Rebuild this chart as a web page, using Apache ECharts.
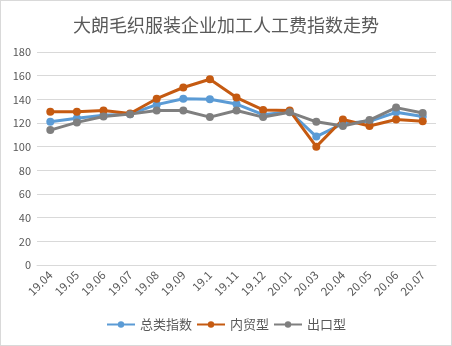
<!DOCTYPE html>
<html><head><meta charset="utf-8">
<script src="https://cdn.jsdelivr.net/npm/echarts@6/dist/echarts.min.js"></script>
<style>html,body{margin:0;padding:0;background:#fff;}#c{width:452px;height:346px;box-sizing:border-box;border:1px solid #d9d9d9;}</style>
</head><body><div id="c"></div>
<script>
const categories = ['19.04','19.05','19.06','19.07','19.08','19.09','19.1','19.11','19.12','20.01','20.03','20.04','20.05','20.06','20.07'];
const totalIndex = [121, 124, 126.5, 127.5, 135.5, 140.5, 140, 136, 127, 129.5, 108.5, 119.5, 121.5, 129, 125.5];
const domestic = [129.5, 129.5, 130.5, 128, 140.5, 150, 157, 141.5, 131, 130.5, 100, 123, 117.5, 123, 121.5];
const exportType = [114, 120.5, 125.5, 127.5, 130.5, 130.5, 125, 130.5, 125, 129, 121, 117.5, 122.5, 133, 128.5];
const yTicks = {min: 0, max: 180, interval: 20};
const titleText = '大朗毛织服装企业加工人工费指数走势';
const seriesNames = ['总类指数', '内贸型', '出口型'];
const colors = ['#5B9BD5', '#C55A11', '#7F7F7F'];

const chart = echarts.init(document.getElementById('c'));
const mk = (name, data, color) => ({
  name, type: 'line', data, color,
  symbol: 'circle', symbolSize: 8,
  lineStyle: {width: 3, color}, itemStyle: {color},
  z: 2
});
chart.setOption({
  animation: false,
  textStyle: {fontFamily: '"Noto Sans CJK SC", sans-serif'},
  title: {text: titleText, left: 'center', top: 10,
    textStyle: {fontSize: 18, fontWeight: 'normal', color: '#595959', fontFamily: '"Noto Sans CJK SC", serif'}},
  grid: {left: 36, right: 15, top: 51, bottom: 80, containLabel: false},
  legend: {bottom: 9, left: 'center', itemWidth: 28, itemHeight: 8, itemGap: 4,
    textStyle: {fontSize: 13, color: '#595959'}, data: seriesNames},
  xAxis: {type: 'category', data: categories, boundaryGap: true,
    axisLine: {lineStyle: {color: '#d9d9d9'}}, axisTick: {show: false},
    axisLabel: {rotate: 45, color: '#595959', fontSize: 11.5, margin: 8, interval: 0}},
  yAxis: {type: 'value', min: yTicks.min, max: yTicks.max, interval: yTicks.interval,
    axisLine: {show: false}, axisTick: {show: false},
    splitLine: {lineStyle: {color: '#d9d9d9', width: 1}},
    axisLabel: {color: '#595959', fontSize: 11, margin: 6}},
  series: [mk(seriesNames[0], totalIndex, colors[0]), mk(seriesNames[1], domestic, colors[1]), mk(seriesNames[2], exportType, colors[2])]
});
</script></body></html>
